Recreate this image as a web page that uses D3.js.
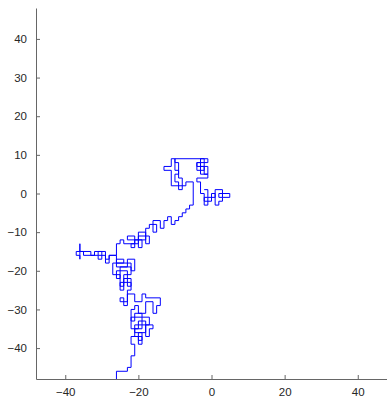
<!DOCTYPE html>
<html>
<head>
<meta charset="utf-8">
<script src="https://cdn.jsdelivr.net/npm/d3@7"></script>
<style>
  body { margin: 0; background: #fff; }
  svg { display: block; }
</style>
</head>
<body>
<svg id="chart" width="387" height="399"></svg>
<script>
// lattice random walk, vertices as [x, y]
const walkStart = [
  [-26,-49],[-26,-46],[-23,-46],[-23,-45],[-22,-45],[-22,-42],[-21,-42],[-21,-39]
];
const walkLower = [
  [-22,-39],[-22,-37],[-20,-37],[-20,-38],[-19,-38],[-19,-36],[-21,-36],[-21,-34],[-16,-34],
  [-16,-35],[-17,-35],[-17,-37],[-18,-37],[-18,-33],[-20,-33],[-20,-35],[-22,-35],[-22,-32],
  [-19,-32],[-19,-35],[-21,-35],[-21,-37],[-19,-37],[-19,-39],[-20,-39],[-20,-36],[-18,-36],
  [-18,-34],[-17,-34],[-17,-32],[-19,-32],[-19,-31],[-21,-31],[-21,-33],[-22,-33],[-22,-30],
  [-21,-30],[-21,-29],
  [-20,-29],[-20,-31],[-18,-31],[-18,-28],[-16,-28],[-16,-31],[-15,-31],[-15,-29],[-14,-29],
  [-14,-27],[-18,-27],[-18,-26],[-19,-26],[-19,-28],[-21,-28],[-21,-26],[-23,-26],[-23,-28],
  [-25,-28],[-25,-27],[-24,-27],[-24,-29],[-23,-29],[-23,-25]
];
const walkMiddle = [
  [-22,-25],[-22,-23],[-25,-23],[-25,-24],[-24,-24],[-24,-21],[-22,-21],[-22,-19],[-25,-19],
  [-25,-22],[-26,-22],[-26,-20],[-23,-20],[-23,-24],[-22,-24],[-22,-22],[-24,-22],[-24,-25],
  [-25,-25],[-25,-21],[-27,-21],[-27,-18],[-24,-18],[-24,-17],[-26,-17],[-26,-19],[-23,-19],
  [-23,-17],[-21,-17],[-21,-20],[-22,-20],[-22,-18],[-26,-18],[-26,-16],[-28,-16],[-28,-18],
  [-29,-18],[-29,-16],[-31,-16],[-31,-17],[-30,-17],[-30,-15],[-32,-15],[-32,-16],[-35,-16],
  [-35,-15],[-36,-15],[-36,-13],[-36,-17],[-36,-16],[-37,-16],[-37,-15],[-33,-15],[-33,-16],
  [-31,-16],[-31,-15],[-29,-15],[-29,-17],[-28,-17],[-28,-16],[-26,-16],[-26,-13],
  [-25,-13],[-25,-12],[-24,-12],[-24,-13],[-21,-13]
];
const walkStairs = [
  [-21,-11],[-23,-11],[-23,-12],[-19,-12],[-19,-14],[-20,-14],[-20,-10],[-18,-10],[-18,-13],
  [-17,-13],[-17,-11],[-18,-11],[-18,-12],[-21,-12],[-21,-14],[-22,-14],[-22,-13],[-20,-13],
  [-20,-11],[-18,-11],[-18,-9],[-17,-9],[-17,-8],
  [-15,-8],[-15,-10],[-16,-10],[-16,-7],[-14,-7],[-14,-9],[-13,-9],[-13,-7],[-12,-7],[-12,-6],
  [-11,-6],[-11,-8],[-10,-8],[-10,-7],[-9,-7],[-9,-6],[-8,-6],[-8,-5],[-7,-5],[-7,-4],[-6,-4],
  [-6,-3],[-5,-3]
];
const walkTop = [
  [-5,3],[-7,3],[-7,2],[-11,2],[-11,6],[-13,6],[-13,7],[-11,7],[-11,9],[-10,9],[-10,6],[-9,6],
  [-9,4],[-8,4],[-8,1],[-9,1],[-9,3],[-10,3],[-10,5],[-9,5],[-9,8],[-10,8],[-10,9],[-2,9],
  [-2,6],[-4,6],[-4,8],[-3,8],[-3,5],[-1,5],[-1,7],[-3,7],[-3,9],[-1,9],[-1,8],[-4,8],[-4,7],
  [-2,7],[-2,5],[-1,5],[-1,4],[-4,4],[-4,3],[-3,3],[-3,0],[-2,0]
];
const walkRight = [
  [-2,-3],[-1,-3],[-1,-1],[-2,-1],[-2,-2],[0,-2],[0,0],[1,0],[1,-3],[2,-3],[2,-2],[3,-2],
  [3,-1],[2,-1],[2,0],[5,0],[5,-1],[3,-1],[3,1],[1,1],[1,-1],[-1,-1],[-1,1],[-2,1]
];
const xTicks = [-40, -20, 0, 20, 40];
const yTicks = [-40, -30, -20, -10, 0, 10, 20, 30, 40];

const points = walkStart.concat(walkLower, walkMiddle, walkStairs, walkTop, walkRight);

const svg = d3.select("#chart");

const x = d3.scaleLinear().domain([-48, 48]).range([36, 387]);
const y = d3.scaleLinear().domain([-48, 48]).range([379, 8]);

svg.append("defs").append("clipPath").attr("id", "plot")
  .append("rect")
  .attr("x", 36).attr("y", 8)
  .attr("width", 351).attr("height", 371);

const line = d3.line()
  .x(d => x(d[0]))
  .y(d => y(d[1]));

svg.append("path")
  .datum(points)
  .attr("clip-path", "url(#plot)")
  .attr("fill", "none")
  .attr("stroke", "#0000ff")
  .attr("stroke-width", 1)
  .attr("d", line);

const xAxis = d3.axisBottom(x)
  .tickValues(xTicks)
  .tickSizeInner(-4)
  .tickSizeOuter(0)
  .tickPadding(9);

const yAxis = d3.axisLeft(y)
  .tickValues(yTicks)
  .tickSizeInner(-4)
  .tickSizeOuter(0)
  .tickPadding(9);

const gx = svg.append("g")
  .attr("transform", "translate(0," + 379 + ")")
  .call(xAxis);

const gy = svg.append("g")
  .attr("transform", "translate(" + 36 + ",0)")
  .call(yAxis);

[gx, gy].forEach(g => {
  g.select(".domain").attr("stroke", "#666");
  g.selectAll(".tick line").attr("stroke", "#666");
  g.selectAll(".tick text")
    .attr("fill", "#262626")
    .style("font-family", "'Liberation Sans', Arial, sans-serif")
    .style("font-size", "11.5px");
});
</script>
</body>
</html>
